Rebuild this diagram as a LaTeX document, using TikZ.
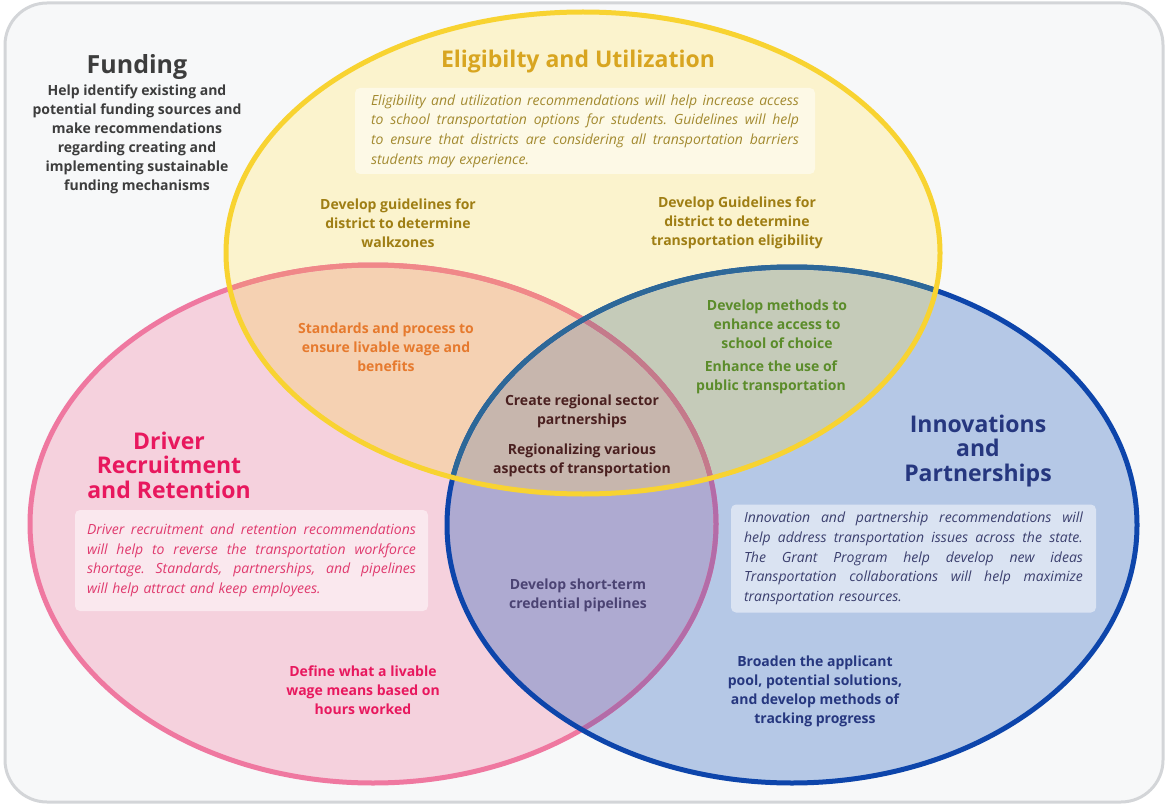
\documentclass[tikz,border=0pt]{standalone}
\usepackage{fontspec}
\setmainfont{Open Sans}
\definecolor{bgc}{HTML}{F7F8F9}
\definecolor{bdc}{HTML}{D3D5D8}
\definecolor{yelF}{HTML}{FBF3CD}
\definecolor{yelS}{HTML}{F8D331}
\definecolor{pinkF}{HTML}{F5D1DD}
\definecolor{pinkS}{HTML}{EF78A0}
\definecolor{blueF}{HTML}{B5C8E6}
\definecolor{blueS}{HTML}{0D45AB}
\definecolor{pyF}{HTML}{F5D1B2}
\definecolor{ybF}{HTML}{C5CBB9}
\definecolor{pbF}{HTML}{AEAAD1}
\definecolor{triF}{HTML}{C7B6AD}
\definecolor{pinkSy}{HTML}{F08888}
\definecolor{pinkSb}{HTML}{B36CA8}
\definecolor{pinkSyb}{HTML}{C47A8A}
\definecolor{blueSy}{HTML}{2D6898}
\definecolor{fundC}{HTML}{3D3D3D}
\definecolor{eligT}{HTML}{D8A520}
\definecolor{eligD}{HTML}{A38A30}
\definecolor{eligL}{HTML}{9F7E14}
\definecolor{orangeL}{HTML}{E67A2E}
\definecolor{greenL}{HTML}{5B8C2A}
\definecolor{triL}{HTML}{4A2020}
\definecolor{drvT}{HTML}{E8185E}
\definecolor{drvD}{HTML}{E03A6E}
\definecolor{purL}{HTML}{4B4373}
\definecolor{innT}{HTML}{26377F}
\definecolor{innD}{HTML}{3B3F6E}
\newcommand\J[2]{\leavevmode\hbox to #1{\spaceskip=3.6pt plus 20pt minus 0.5pt\relax #2}}
\newcommand\descfont{\fontsize{14}{19.7}\selectfont\itshape\frenchspacing}
\def\ellY{(583,253) ellipse [x radius=357pt, y radius=241pt]}
\def\ellP{(373,524) ellipse [x radius=343pt, y radius=259pt]}
\def\ellB{(792,525) ellipse [x radius=345pt, y radius=258pt]}
\begin{document}
\begin{tikzpicture}[x=1pt,y=-1pt,
  lbl/.style={align=center, font=\fontsize{14}{19}\selectfont\bfseries, inner sep=0pt},
  ttl/.style={align=center, font=\fontsize{23}{24.5}\selectfont\bfseries, inner sep=0pt},
  descbox/.style={fill=white, fill opacity=0.5, text opacity=1, rounded corners=5pt,
     font=\descfont, align=left, inner ysep=5pt},
  ring/.style={line width=5pt}]
\useasboundingbox (0,0) rectangle (1167,805);
\filldraw[fill=bgc, draw=bdc, line width=3pt, rounded corners=42pt] (5,3) rectangle (1163,802);
% fills
\fill[pinkF] \ellP;
\fill[blueF] \ellB;
\fill[yelF] \ellY;
\begin{scope}\clip \ellP; \fill[pyF] \ellY; \end{scope}
\begin{scope}\clip \ellY; \fill[ybF] \ellB; \end{scope}
\begin{scope}\clip \ellP; \fill[pbF] \ellB; \end{scope}
\begin{scope}\clip \ellP; \clip \ellY; \fill[triF] \ellB; \end{scope}
% strokes
\draw[ring, pinkS] \ellP;
\begin{scope}\clip \ellY; \draw[ring, pinkSy] \ellP; \end{scope}
\begin{scope}\clip \ellB; \draw[ring, pinkSb] \ellP; \end{scope}
\begin{scope}\clip \ellY; \clip \ellB; \draw[ring, pinkSyb] \ellP; \end{scope}
\draw[ring, blueS] \ellB;
\begin{scope}\clip \ellY; \draw[ring, blueSy] \ellB; \end{scope}
\draw[ring, yelS] \ellY;
% Funding
\node[ttl, text=fundC, font=\fontsize{25}{27}\selectfont\bfseries] (fundT) at (137,67) {Funding};
\node[lbl, text=fundC] (fundB) at (137,139) {Help identify existing and\\potential funding sources and\\make recommendations\\regarding creating and\\implementing sustainable\\funding mechanisms};
% Eligibility
\node[ttl, text=eligT] (eligT) at (578,62) {Eligibilty and Utilization};
\node[descbox, text=eligD, text width=428pt, inner xsep=16pt, minimum height=86pt] (eligD) at (585,131)
 {\J{428pt}{Eligibility and utilization recommendations will help increase access}\\
  \J{428pt}{to school transportation options for students. Guidelines will help}\\
  \J{428pt}{to ensure that districts are considering all transportation barriers}\\
  students may experience.};
\node[lbl, text=eligL] (walk) at (398,223) {Develop guidelines for\\district to determine\\walkzones};
\node[lbl, text=eligL] (elig) at (737,223) {Develop Guidelines for\\district to determine\\transportation eligibility};
% overlaps
\node[lbl, text=orangeL] (wage) at (386,347.5) {Standards and process to\\ensure livable wage and\\benefits};
\node[lbl, text=greenL] (choice) at (777,324) {Develop methods to\\enhance access to\\school of choice};
\node[lbl, text=greenL] (public) at (771,377) {Enhance the use of\\public transportation};
\node[lbl, text=triL] (regional) at (582,411) {Create regional sector\\partnerships};
\node[lbl, text=triL] (aspects) at (582,460.5) {Regionalizing various\\aspects of transportation};
\node[lbl, text=purL] (short) at (578,595.5) {Develop short-term\\credential pipelines};
% Driver
\node[ttl, text=drvT] (drvT) at (169,465) {Driver\\Recruitment\\and Retention};
\node[descbox, text=drvD, text width=329pt, inner xsep=12pt, minimum height=101pt] (drvD) at (251.5,560.5)
 {\J{329pt}{Driver recruitment and retention recommendations}\\
  \J{329pt}{will help to reverse the transportation workforce}\\
  \J{329pt}{shortage. Standards, partnerships, and pipelines}\\
  will help attract and keep employees.};
\node[lbl, text=drvT] (define) at (363,690) {Define what a livable\\wage means based on\\hours worked};
% Innovations
\node[ttl, text=innT] (innT) at (978,451) {Innovations\\and\\Partnerships};
\node[descbox, text=innD, text width=339pt, inner xsep=13pt, minimum height=108pt] (innD) at (913.5,558.5)
 {\J{339pt}{Innovation and partnership recommendations will}\\
  \J{339pt}{help address transportation issues across the state.}\\
  \J{339pt}{The Grant Program help develop new ideas}\\
  \J{339pt}{Transportation collaborations will help maximize}\\
  transportation resources.};
\node[lbl, text=innT] (broaden) at (815,691.5) {Broaden the applicant\\pool, potential solutions,\\and develop methods of\\tracking progress};
\end{tikzpicture}
\end{document}
